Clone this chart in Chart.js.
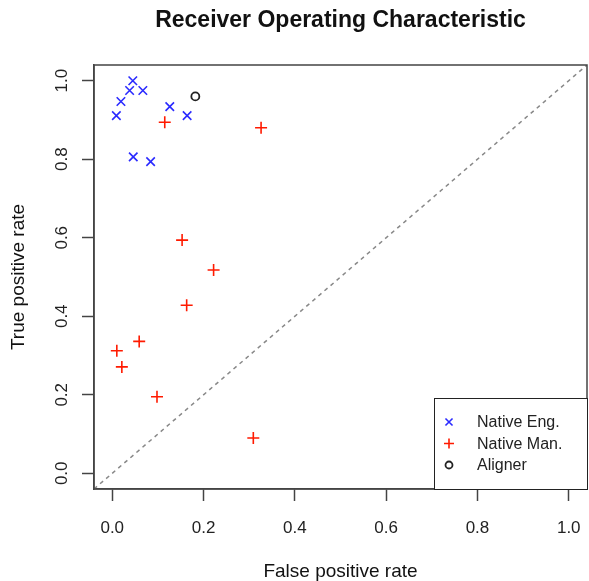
<!DOCTYPE html>
<html>
<head>
<meta charset="utf-8">
<script src="https://cdn.jsdelivr.net/npm/chart.js@4/dist/chart.umd.min.js"></script>
<style>
  html, body { margin: 0; padding: 0; background: #fff; }
  #roc { display: block; }
</style>
</head>
<body>
<canvas id="roc" width="589" height="581"></canvas>
<script>
"use strict";

// Points
const engFpr = [0.045, 0.038, 0.067, 0.019, 0.009, 0.126, 0.164, 0.046, 0.084];
const engTpr = [1.000, 0.975, 0.975, 0.947, 0.911, 0.934, 0.911, 0.806, 0.794];
const manFpr = [0.115, 0.326, 0.153, 0.222, 0.163, 0.059, 0.010, 0.021, 0.098, 0.309];
const manTpr = [0.894, 0.880, 0.594, 0.518, 0.428, 0.336, 0.312, 0.271, 0.195, 0.090];
const alignerFpr = [0.182];
const alignerTpr = [0.960];

// chance line spans the whole plot region (R pads the range by 4%)
const diagX = [-0.04, 1.04];
const diagY = [-0.04, 1.04];

const xTicks = [0.0, 0.2, 0.4, 0.6, 0.8, 1.0];
const yTicks = [0.0, 0.2, 0.4, 0.6, 0.8, 1.0];

const seriesNames = ["Native Eng.", "Native Man.", "Aligner"];

function toPoints(xs, ys) {
    let pts = [];
    for (let i = 0; i < xs.length; i++) {
        pts.push({x: xs[i], y: ys[i]});
    }
    return pts;
}

const FONT = "'Liberation Sans', Arial, Helvetica, sans-serif";
const AXIS_COL = "#444";

// box round the plot + legend, drawn after the datasets
const boxAndLegend = {
    id: "boxAndLegend",
    afterDatasetsDraw(chart) {
        const ctx = chart.ctx;
        const a = chart.chartArea;
        ctx.save();
        ctx.strokeStyle = AXIS_COL;
        ctx.lineWidth = 1.5;
        ctx.strokeRect(a.left, a.top, a.right - a.left, a.bottom - a.top);

        // legend in the bottom right corner
        const w = 153, h = 91;
        const lx = a.right - w, ly = a.bottom - h;
        ctx.fillStyle = "#fff";
        ctx.fillRect(lx, ly, w, h);
        ctx.strokeStyle = "#222";
        ctx.lineWidth = 1;
        ctx.strokeRect(lx + 0.5, ly + 0.5, w, h);

        ctx.font = "16px " + FONT;
        ctx.textBaseline = "middle";
        ctx.textAlign = "left";
        const rowY = [24, 45.5, 67];
        for (let i = 0; i < seriesNames.length; i++) {
            const ds = chart.data.datasets[i];
            const ry = ly + rowY[i];
            ctx.strokeStyle = ds.borderColor;
            ctx.fillStyle = "rgba(0,0,0,0)";
            ctx.lineWidth = ds.borderWidth;
            Chart.helpers.drawPoint(ctx, {
                pointStyle: ds.pointStyle,
                radius: ds.pointStyle === "circle" ? 3.5 : 5,
                rotation: 0,
                borderWidth: ds.borderWidth
            }, lx + 15, ry);
            ctx.fillStyle = "#222";
            ctx.fillText(seriesNames[i], lx + 43, ry + 1);
        }
        ctx.restore();
    }
};

let rocChart = new Chart(document.getElementById("roc").getContext("2d"), {
    type: "scatter",
    data: {
        datasets: [{
            label: seriesNames[0],
            data: toPoints(engFpr, engTpr),
            pointStyle: "crossRot",
            pointRadius: 6,
            borderColor: "#2a2aff",
            backgroundColor: "#2a2aff",
            borderWidth: 1.6
        }, {
            label: seriesNames[1],
            data: toPoints(manFpr, manTpr),
            pointStyle: "cross",
            pointRadius: 6,
            borderColor: "#ff1a00",
            backgroundColor: "#ff1a00",
            borderWidth: 1.6
        }, {
            label: seriesNames[2],
            data: toPoints(alignerFpr, alignerTpr),
            pointStyle: "circle",
            pointRadius: 4,
            borderColor: "#222",
            backgroundColor: "rgba(0,0,0,0)",
            borderWidth: 1.8
        }, {
            label: "chance",
            data: toPoints(diagX, diagY),
            showLine: true,
            pointRadius: 0,
            borderColor: "#888",
            borderWidth: 1.5,
            borderDash: [4, 4],
            fill: false
        }]
    },
    options: {
        responsive: false,
        animation: false,
        events: [],
        layout: { autoPadding: false, padding: { left: 0, right: 2, top: 0, bottom: 0 } },
        plugins: {
            legend: { display: false },
            tooltip: { enabled: false },
            title: {
                display: true,
                fullSize: false,
                text: "Receiver Operating Characteristic",
                color: "#111",
                font: { family: FONT, size: 23, weight: "bold", lineHeight: 1.2 },
                padding: { top: 6.5, bottom: 30.9 }
            }
        },
        scales: {
            x: {
                type: "linear",
                min: -0.04,
                max: 1.04,
                afterBuildTicks: s => { s.ticks = xTicks.map(v => ({value: v})); },
                afterFit: s => { s.height = 92; s.paddingLeft = 0; s.paddingRight = 0; },
                grid: { drawOnChartArea: false, drawTicks: true, tickLength: 12, tickColor: AXIS_COL, tickWidth: 1.5 },
                border: { display: true, color: AXIS_COL, width: 1.5 },
                ticks: {
                    callback: v => v.toFixed(1),
                    color: "#222",
                    font: { family: FONT, size: 17 },
                    padding: 17,
                    maxRotation: 0,
                    autoSkip: false
                },
                title: {
                    display: true,
                    text: "False positive rate",
                    color: "#111",
                    font: { family: FONT, size: 19, lineHeight: 1.0 },
                    padding: { top: 0, bottom: 0 }
                }
            },
            y: {
                type: "linear",
                min: -0.04,
                max: 1.04,
                afterBuildTicks: s => { s.ticks = yTicks.map(v => ({value: v})); },
                afterFit: s => { s.width = 94; s.paddingTop = 0; s.paddingBottom = 0; },
                grid: { drawOnChartArea: false, drawTicks: true, tickLength: 12, tickColor: AXIS_COL, tickWidth: 1.5 },
                border: { display: true, color: AXIS_COL, width: 1.5 },
                ticks: {
                    callback: v => v.toFixed(1),
                    color: "#222",
                    font: { family: FONT, size: 17 },
                    padding: 7.7,
                    minRotation: 90,
                    maxRotation: 90,
                    crossAlign: "center",
                    autoSkip: false
                },
                title: {
                    display: true,
                    text: "True positive rate",
                    color: "#111",
                    font: { family: FONT, size: 19 },
                    padding: { top: 7, bottom: 0 }
                }
            }
        }
    },
    plugins: [boxAndLegend]
});
</script>
</body>
</html>
